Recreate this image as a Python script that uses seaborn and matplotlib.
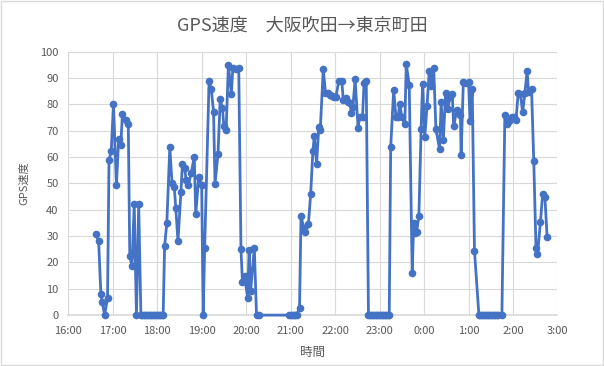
import pandas as pd
import matplotlib.pyplot as plt
import matplotlib.dates as mdates
import seaborn as sns
from matplotlib.patches import Rectangle
from matplotlib.ticker import FuncFormatter

# time of each GPS fix (clock time, run crosses midnight)
times = [
    "16:37", "16:41", "16:44", "16:46", "16:49", "16:53", "16:55", "16:58", "17:01", "17:05",
    "17:08", "17:11", "17:13", "17:18", "17:21", "17:23", "17:26", "17:29", "17:32", "17:35",
    "17:38", "17:40", "17:42", "17:44", "17:46", "17:48", "17:50", "17:52", "17:54", "17:56",
    "17:58", "18:00", "18:02", "18:04", "18:06", "18:08", "18:10", "18:13", "18:17", "18:20",
    "18:23", "18:25", "18:28", "18:32", "18:34", "18:37", "18:39", "18:42", "18:46", "18:50",
    "18:52", "18:56", "19:00", "19:02", "19:04", "19:10", "19:13", "19:16", "19:18", "19:22",
    "19:25", "19:28", "19:30", "19:33", "19:36", "19:40", "19:42", "19:46", "19:50", "19:53",
    "19:55", "19:58", "20:02", "20:04", "20:06", "20:11", "20:14", "20:17", "20:58", "21:00",
    "21:02", "21:04", "21:06", "21:08", "21:12", "21:14", "21:18", "21:20", "21:24", "21:27",
    "21:30", "21:32", "21:35", "21:38", "21:40", "21:44", "21:47", "21:50", "21:53", "21:56",
    "21:59", "22:01", "22:05", "22:09", "22:11", "22:15", "22:18", "22:20", "22:22", "22:24",
    "22:27", "22:31", "22:33", "22:37", "22:39", "22:42", "22:45", "22:47", "22:49", "22:51",
    "22:53", "22:55", "22:57", "22:59", "23:01", "23:03", "23:05", "23:07", "23:09", "23:11",
    "23:13", "23:15", "23:19", "23:22", "23:25", "23:27", "23:30", "23:34", "23:36", "23:40",
    "23:44", "23:46", "23:48", "23:50", "23:53", "23:56", "23:58", "0:01", "0:04", "0:07",
    "0:10", "0:13", "0:16", "0:21", "0:23", "0:26", "0:29", "0:32", "0:35", "0:38",
    "0:40", "0:44", "0:47", "0:49", "0:50", "0:53", "0:56", "1:00", "1:02", "1:05",
    "1:08", "1:14", "1:16", "1:18", "1:20", "1:22", "1:24", "1:26", "1:28", "1:30",
    "1:32", "1:34", "1:36", "1:38", "1:40", "1:45", "1:49", "1:52", "1:54", "1:58",
    "2:01", "2:04", "2:07", "2:10", "2:13", "2:16", "2:19", "2:21", "2:25", "2:28",
    "2:31", "2:33", "2:37", "2:40", "2:43", "2:46",
]

# GPS speed (km/h)
speeds = [
    30.7, 28.1, 8.0, 4.8, 0, 6.4, 58.8, 62.3, 80.2, 49.2,
    66.9, 64.7, 76.2, 74.0, 72.4, 22.3, 18.5, 42.1, 0, 42.1,
    0, 0, 0, 0, 0, 0, 0, 0, 0, 0,
    0, 0, 0, 0, 0, 0, 26.2, 35.0, 63.7, 50.1,
    48.7, 40.8, 28.1, 46.6, 57.4, 55.8, 51.3, 49.2, 54.1, 60.1,
    38.4, 52.5, 49.2, 0, 25.4, 88.9, 85.7, 77.1, 49.9, 61.1,
    81.9, 78.5, 71.6, 70.3, 94.9, 83.8, 93.7, 93.4, 93.7, 25.0,
    12.5, 14.9, 6.4, 24.8, 9.0, 25.4, 0, 0, 0, 0,
    0, 0, 0, 0, 2.7, 37.5, 32.9, 31.6, 34.6, 45.9,
    62.2, 68.1, 57.4, 71.3, 70.3, 93.3, 84.4, 84.2, 83.6, 83.2,
    82.7, 82.7, 88.9, 88.9, 81.7, 82.3, 80.8, 80.4, 76.6, 79.1,
    89.5, 70.9, 75.3, 75.3, 88.0, 88.9, 0, 0, 0, 0,
    0, 0, 0, 0, 0, 0, 0, 0, 0, 0,
    0, 63.7, 85.5, 75.3, 75.3, 80.2, 75.3, 72.4, 95.2, 87.4,
    15.9, 35.1, 31.1, 31.7, 37.5, 70.5, 87.7, 67.7, 79.4, 92.7,
    87.0, 93.7, 70.5, 63.0, 80.7, 66.5, 84.2, 78.3, 82.6, 83.9,
    71.6, 77.9, 77.0, 75.9, 60.7, 88.6, 88.2, 88.6, 73.8, 85.7,
    24.4, 0, 0, 0, 0, 0, 0, 0, 0, 0,
    0, 0, 0, 0, 0, 0, 75.9, 72.4, 73.6, 75.1,
    75.3, 74.1, 84.2, 83.9, 76.9, 84.2, 92.5, 84.8, 85.7, 58.4,
    25.5, 23.1, 35.3, 46.1, 45.0, 29.6,
]

title = "GPS速度\u3000大阪吹田→東京町田"


def to_datetime(t):
    h, m = map(int, t.split(":"))
    day = 1 if h >= 16 else 2
    return pd.Timestamp(2020, 1, day, h, m)


df = pd.DataFrame({"time": [to_datetime(t) for t in times], "speed": speeds})

sns.set_theme(style="whitegrid")
plt.rcParams["font.family"] = ["Noto Sans CJK JP", "DejaVu Sans"]

fig = plt.figure(figsize=(6.04, 3.66), dpi=100)
ax = fig.add_axes([0.113, 0.139, 0.81, 0.72])

sns.lineplot(data=df, x="time", y="speed", ax=ax, color="#4472C4", linewidth=2.0,
             marker="o", markersize=5.5, markeredgewidth=0, clip_on=False, zorder=3)

ax.set_xlim(pd.Timestamp(2020, 1, 1, 16), pd.Timestamp(2020, 1, 2, 3))
ax.set_ylim(0, 100)
ax.set_yticks(range(0, 101, 10))
ax.xaxis.set_major_locator(mdates.HourLocator())

def hour_fmt(x, pos):
    d = mdates.num2date(x)
    return f"{d.hour}:{d.minute:02d}"

ax.xaxis.set_major_formatter(FuncFormatter(hour_fmt))

ax.grid(True, color="#d9d9d9", linewidth=0.8)
for side in ["left", "top", "right"]:
    ax.spines[side].set_visible(False)
ax.spines["bottom"].set_color("#d9d9d9")
ax.tick_params(axis="both", length=0, labelsize=8, colors="#595959")
ax.tick_params(axis="x", pad=8)
ax.tick_params(axis="y", pad=7)

ax.set_xlabel("時間", fontsize=9, color="#595959", labelpad=7)
ax.set_ylabel("GPS速度", fontsize=8, color="#595959", labelpad=8)
fig.suptitle(title, fontsize=13, color="#595959", y=0.955)

fig.patches.append(Rectangle((0.001, 0.002), 0.997, 0.995, transform=fig.transFigure,
                             fill=False, edgecolor="#d9d9d9", linewidth=1))

fig.savefig("out.png", dpi=100)
